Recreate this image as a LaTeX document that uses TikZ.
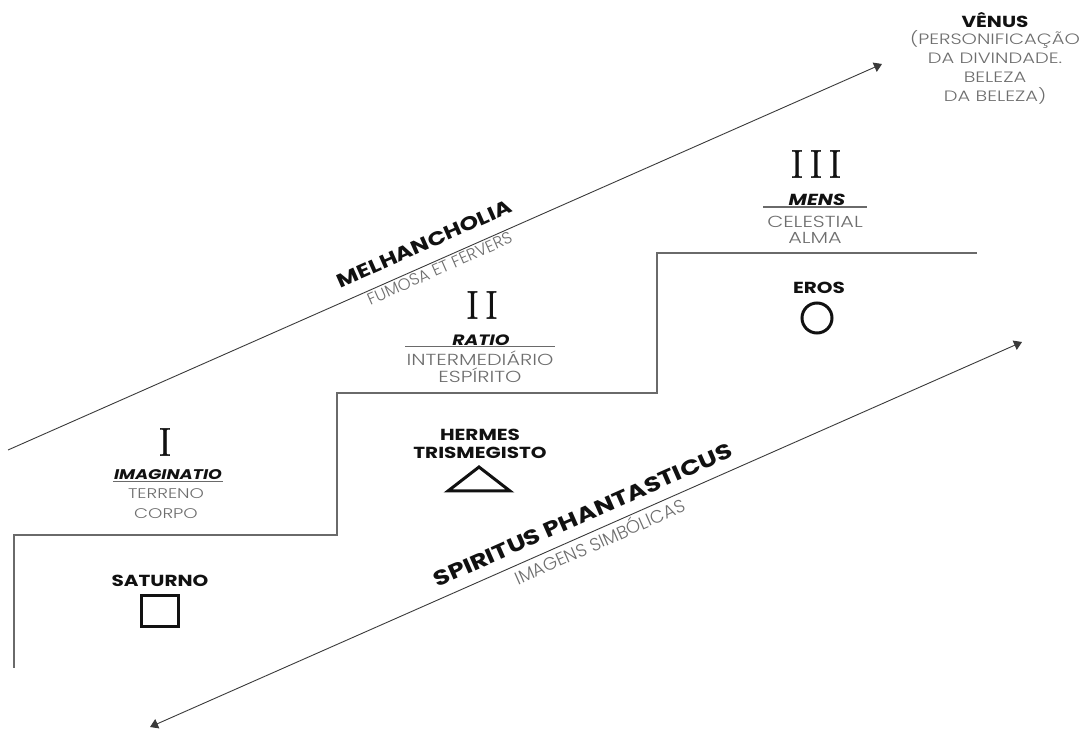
\documentclass[tikz,border=0pt]{standalone}
\usepackage{fontspec}
\usepackage{tikz}
\newfontfamily\widefont{Poppins}[FakeStretch=1.25]
\newfontfamily\thinfont{Poppins Light}
\newfontfamily\thinwide{Poppins Light}[FakeStretch=1.3]
\newfontfamily\numfont{Latin Modern Roman}[LetterSpace=12, FakeBold=1]
\definecolor{Ink}{HTML}{111111}
\definecolor{StepGray}{HTML}{6A6A6A}
\definecolor{SoftGray}{HTML}{6E6E6E}
\definecolor{FlowGray}{HTML}{3A3A3A}
\usetikzlibrary{arrows.meta, positioning, calc}

\begin{document}
\begin{tikzpicture}[x=1pt, y=1pt, inner sep=1pt,
    numeral/.style={font=\numfont\fontsize{40}{40}\selectfont, text=Ink},
    heavy/.style={font=\widefont\bfseries\fontsize{16}{18}\selectfont, text=Ink},
    tier/.style={font=\widefont\bfseries\itshape\fontsize{15}{17}\selectfont, text=Ink},
    thin/.style={font=\thinwide\fontsize{16}{17}\selectfont, text=SoftGray, align=center},
    rule/.style={StepGray, line width=1.3pt},
    flow/.style={FlowGray, line width=0.9pt},
    glyph/.style={Ink, line width=3pt}]
        \useasboundingbox (0,0) rectangle (1088,729);

        % the three steps
        \draw[StepGray, line width=1.5pt] (14,61) |- (337,194) |- (657,336) |- (977,476);

        % step I
        \node (one) [numeral] at (165,287) {I};
        \node (imag) [tier, font=\widefont\bfseries\itshape\fontsize{14}{17}\selectfont] at (168,254) {IMAGINATIO};
        \node (terreno) [thin, font=\thinwide\fontsize{14}{20}\selectfont] at (166,225) {TERRENO\\CORPO};
        \draw[rule] (imag.south west) -- (imag.south east);
        \node (saturno) [heavy] at (160,148) {SATURNO};
        \node (square) [draw, glyph, minimum width=37, minimum height=31] at (160,118) {};

        % step II
        \node (two) [numeral] at (482,424) {II};
        \node (ratio) [tier] at (481,389) {RATIO};
        \node (inter) [thin] at (480,362) {INTERMEDIÁRIO\\ESPÍRITO};
        \draw[rule] (inter.west |- ratio.south) -- (inter.east |- ratio.south);
        \node (hermes) [heavy, align=center, font=\widefont\bfseries\fontsize{16}{18}\selectfont] at (480,285) {HERMES\\TRISMEGISTO};
        \draw[glyph, line join=miter] (448,238) -- (479,262) -- (510,238) -- cycle;

        % step III
        \node (three) [numeral] at (816,565) {III};
        \node (mens) [tier, font=\widefont\bfseries\itshape\fontsize{16}{17}\selectfont] at (817,529) {MENS};
        \node (celest) [thin, font=\thinwide\fontsize{16}{16}\selectfont] at (815,499) {CELESTIAL\\ALMA};
        \draw[rule] ([xshift=-3pt]celest.west |- mens.south) -- ([xshift=3pt]celest.east |- mens.south);
        \node (eros) [heavy] at (819,441) {EROS};
        \node (circ) [draw, circle, glyph, minimum size=30] at (817,411) {};

        % venus
        \node (venus) [heavy] at (995,709) {VÊNUS};
        \node (venusnote) [thin, font=\thinwide\fontsize{15}{19}\selectfont] at (995,662) {(PERSONIFICAÇÃO\\DA DIVINDADE.\\BELEZA\\DA BELEZA)};

        % the two diagonals
        \coordinate (melA) at (8,279);
        \coordinate (melB) at (882,665);
        \coordinate (spA) at (150,2);
        \coordinate (spB) at (1022,387);

        \draw[flow, -{Triangle[width=10pt,length=8pt]}] (melA) -- (melB)
            node[pos=.486, sloped, above=12pt, anchor=south, heavy, font=\widefont\bfseries\fontsize{19}{19}\selectfont] {MELHANCHOLIA}
            node[pos=.49, sloped, below=1pt, anchor=north, thin, font=\thinfont\fontsize{16.5}{17}\selectfont] {FUMOSA ET FERVERS};
        \draw[flow, {Triangle[width=10pt,length=8pt]}-{Triangle[width=10pt,length=8pt]}] (spA) -- (spB)
            node[pos=.505, sloped, above=10pt, anchor=south, heavy, font=\widefont\bfseries\fontsize{21}{21}\selectfont] {SPIRITUS PHANTASTICUS}
            node[pos=.51, sloped, below=1pt, anchor=north, thin, font=\thinfont\fontsize{18}{18}\selectfont] {IMAGENS SIMBÓLICAS};
    \end{tikzpicture}
\end{document}
